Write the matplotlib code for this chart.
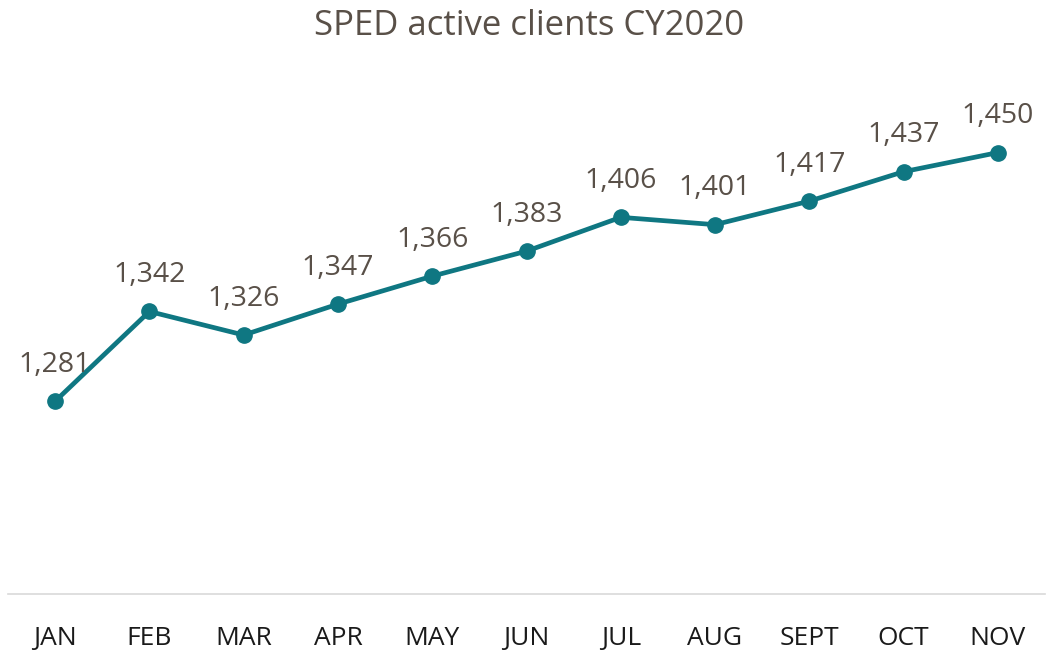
import matplotlib.pyplot as plt

months = ['JAN', 'FEB', 'MAR', 'APR', 'MAY', 'JUN', 'JUL', 'AUG', 'SEPT', 'OCT', 'NOV']
clients = [1281, 1342, 1326, 1347, 1366, 1383, 1406, 1401, 1417, 1437, 1450]

plt.rcParams['font.family'] = ['Open Sans', 'DejaVu Sans']

line_color = '#0f7782'
text_color = '#595048'

fig = plt.figure(figsize=(10.58, 6.5), dpi=100)
ax = fig.add_axes([8 / 1058, 1 - 594 / 650, 1037 / 1058, 515 / 650])

x = range(len(months))
ax.plot(x, clients, color=line_color, linewidth=3.4, marker='o', markersize=11,
        solid_capstyle='round', zorder=3)

for i, v in enumerate(clients):
    ax.annotate(f'{v:,}', (i, v), xytext=(0, 16), textcoords='offset points',
                ha='center', va='bottom', fontsize=20.5, color=text_color)

ax.set_xlim(-0.5, len(months) - 0.5)
ax.set_ylim(1150, 1500)
ax.set_xticks(list(x))
ax.set_xticklabels(months, fontsize=19, color='#1a1a1a')
ax.tick_params(axis='x', length=0, pad=23)
ax.set_yticks([])

for side in ['top', 'right', 'left']:
    ax.spines[side].set_visible(False)
ax.spines['bottom'].set_color('#d9d9d9')
ax.spines['bottom'].set_linewidth(1.2)

fig.text(0.5, 1 - 26 / 650, 'SPED active clients CY2020', ha='center', va='center',
         fontsize=25, color=text_color)

fig.savefig('out.png', dpi=100)
